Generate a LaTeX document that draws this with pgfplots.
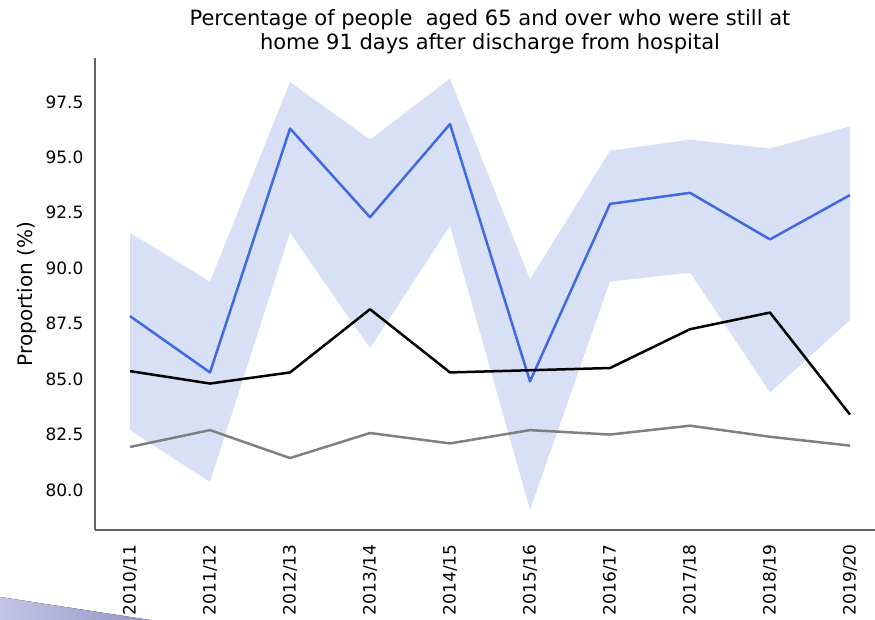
\documentclass[border=0pt]{standalone}
\usepackage{pgfplots}
\pgfplotsset{compat=1.18}
\usepgfplotslibrary{fillbetween}
\usetikzlibrary{calc}
\usepackage{fontspec}
\setmainfont{DejaVu Sans}
\definecolor{lineblue}{RGB}{65,105,225}
\definecolor{bandblue}{RGB}{216,224,246}
\definecolor{spine}{RGB}{100,100,100}
\definecolor{decoL}{RGB}{196,196,228}
\definecolor{decoR}{RGB}{146,150,198}
\begin{document}
\begin{tikzpicture}
\begin{axis}[
  scale only axis,
  width=780pt, height=472pt,
  xmin=-0.4375, xmax=9.3125,
  ymin=78.196, ymax=99.48,
  axis x line*=bottom, axis y line*=left,
  axis line style={spine, line width=1.2pt},
  x axis line style={-}, y axis line style={-},
  xtick={0,...,9},
  xticklabels={2010/11,2011/12,2012/13,2013/14,2014/15,2015/16,2016/17,2017/18,2018/19,2019/20},
  ytick={80,82.5,85,87.5,90,92.5,95,97.5},
  major tick length=0pt,
  tick label style={font=\fontsize{17}{20}\selectfont, black},
  yticklabel style={/pgf/number format/fixed, /pgf/number format/fixed zerofill, /pgf/number format/precision=1, xshift=-8pt},
  xticklabel style={rotate=90, anchor=east},
  xticklabel shift=11pt,
  /pgf/number format/assume math mode=true,
  ylabel={Proportion (\%)},
  ylabel style={font=\fontsize{20}{24}\selectfont, at={(rel axis cs:0,0.5)}, anchor=south, yshift=55pt},
  title={Percentage of people\ \ aged 65 and over who were still at\\home 91 days after discharge from hospital},
  title style={font=\fontsize{21}{24}\selectfont, align=center, at={(rel axis cs:0.5,1)}, anchor=south, yshift=-5pt, xshift=5pt},
  clip=false,
]
\addplot[name path=upper, draw=none] coordinates {
 (0,91.6) (1,89.4) (2,98.4) (3,95.8) (4,98.55) (5,89.5) (6,95.3) (7,95.8) (8,95.4) (9,96.4)};
\addplot[name path=lower, draw=none] coordinates {
 (0,82.7) (1,80.36) (2,91.6) (3,86.4) (4,91.9) (5,79.1) (6,89.4) (7,89.8) (8,84.4) (9,87.66)};
\addplot[bandblue] fill between[of=upper and lower];
\addplot[lineblue, line width=2.5pt, line join=round] coordinates {
 (0,87.84) (1,85.3) (2,96.3) (3,92.3) (4,96.5) (5,84.9) (6,92.9) (7,93.4) (8,91.3) (9,93.3)};
\addplot[black, line width=2.5pt, line join=round] coordinates {
 (0,85.36) (1,84.8) (2,85.3) (3,88.15) (4,85.3) (5,85.4) (6,85.5) (7,87.25) (8,88.0) (9,83.4)};
\addplot[gray, line width=2.5pt, line join=round] coordinates {
 (0,81.94) (1,82.7) (2,81.44) (3,82.57) (4,82.1) (5,82.7) (6,82.5) (7,82.9) (8,82.4) (9,82.0)};
\coordinate (O) at (rel axis cs:0,0);
\end{axis}
\pgfresetboundingbox
\path (O) ++(-95pt,-90pt) coordinate (BL) rectangle ++(875pt,620pt);
\fill[left color=decoL, right color=decoR] ($(BL)+(0,23pt)$) -- ($(BL)+(150pt,0)$) -- (BL) -- cycle;
\end{tikzpicture}
\end{document}
